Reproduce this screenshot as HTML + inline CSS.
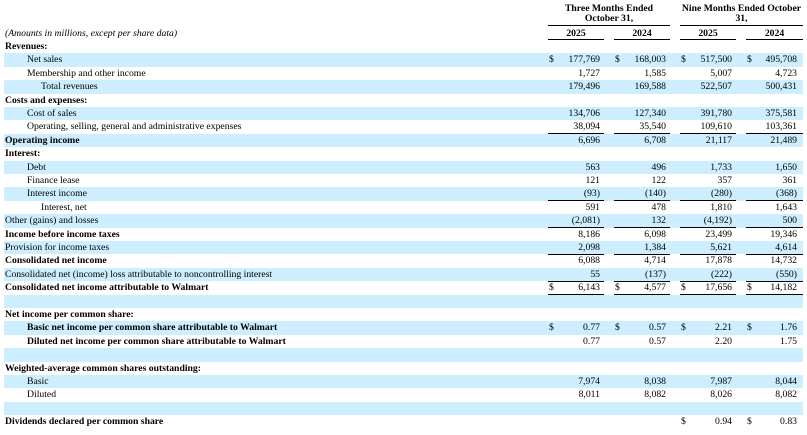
<!DOCTYPE html>
<html><head><meta charset="utf-8"><style>
body{margin:0;width:807px;height:435px;background:#fff;position:relative;overflow:hidden;font-family:"Liberation Serif",serif;font-size:9.7px;color:#000}
.r{position:absolute;left:4px;width:799px;height:13.4px}
.b{background:#cceeff}
.t{position:absolute;line-height:13.4px;white-space:nowrap}
.n{position:absolute;line-height:13.4px;text-align:right;width:60px}
.d{position:absolute;line-height:13.4px}
.ln{position:absolute;height:1px;background:#000}
.h{position:absolute;font-weight:bold;text-align:center;line-height:10px;white-space:nowrap}
</style></head><body>
<div class="h" style="left:548px;width:122px;top:4px">Three Months Ended<br>October 31,</div>
<div class="h" style="left:676px;width:131px;top:4px">Nine Months Ended October<br>31,</div>
<div class="ln" style="left:548px;width:122px;top:25px"></div>
<div class="ln" style="left:680px;width:123px;top:25px"></div>
<div class="h" style="left:548px;width:56px;top:29px">2025</div>
<div class="h" style="left:614px;width:56px;top:29px">2024</div>
<div class="h" style="left:680px;width:56px;top:29px">2025</div>
<div class="h" style="left:746px;width:57px;top:29px">2024</div>
<div class="ln" style="left:548px;width:56px;top:39px"></div>
<div class="ln" style="left:614px;width:56px;top:39px"></div>
<div class="ln" style="left:680px;width:56px;top:39px"></div>
<div class="ln" style="left:746px;width:57px;top:39px"></div>
<div class="t" style="left:5px;top:27px;font-style:italic">(Amounts in millions, except per share data)</div>
<div id="c"></div>
<script>
var rows=[
["Revenues:",5,1,null],
["Net sales",27,0,["177,769","168,003","517,500","495,708"],[1,1,1,1]],
["Membership and other income",27,0,["1,727","1,585","5,007","4,723"],0,"s"],
["Total revenues",41,0,["179,496","169,588","522,507","500,431"]],
["Costs and expenses:",5,1,null],
["Cost of sales",27,0,["134,706","127,340","391,780","375,581"]],
["Operating, selling, general and administrative expenses",27,0,["38,094","35,540","109,610","103,361"],0,"s"],
["Operating income",5,1,["6,696","6,708","21,117","21,489"]],
["Interest:",5,1,null],
["Debt",27,0,["563","496","1,733","1,650"]],
["Finance lease",27,0,["121","122","357","361"]],
["Interest income",27,0,["(93)","(140)","(280)","(368)"],0,"s"],
["Interest, net",41,0,["591","478","1,810","1,643"]],
["Other (gains) and losses",5,0,["(2,081)","132","(4,192)","500"],0,"s"],
["Income before income taxes",5,1,["8,186","6,098","23,499","19,346"]],
["Provision for income taxes",5,0,["2,098","1,384","5,621","4,614"],0,"s"],
["Consolidated net income",5,1,["6,088","4,714","17,878","14,732"]],
["Consolidated net (income) loss attributable to noncontrolling interest",5,0,["55","(137)","(222)","(550)"],0,"s"],
["Consolidated net income attributable to Walmart",5,1,["6,143","4,577","17,656","14,182"],[1,1,1,1],"d"],
["",5,0,null],
["Net income per common share:",5,1,null],
["Basic net income per common share attributable to Walmart",27,1,["0.77","0.57","2.21","1.76"],[1,1,1,1]],
["Diluted net income per common share attributable to Walmart",27,1,["0.77","0.57","2.20","1.75"]],
["",5,0,null],
["Weighted-average common shares outstanding:",5,1,null],
["Basic",27,0,["7,974","8,038","7,987","8,044"]],
["Diluted",27,0,["8,011","8,082","8,026","8,082"]],
["",5,0,null],
["Dividends declared per common share",5,1,["","","0.94","0.83"],[0,0,1,1]]
];
var L=[548,614,680,746],W=[56,56,56,57],R=[600,666,732,797];
var h="";
rows.forEach(function(r,i){
 var top=40+i*13.4;
 h+='<div class="r'+(i%2?' b':'')+'" style="top:'+top+'px"></div>';
 if(r[0])h+='<div class="t" style="left:'+r[1]+'px;top:'+top+'px;'+(r[2]?'font-weight:bold':'')+'">'+r[0]+'</div>';
 if(r[3])for(var k=0;k<4;k++){
  h+='<div class="n" style="left:'+(R[k]-60)+'px;top:'+top+'px">'+r[3][k]+'</div>';
  if(r[4]&&r[4][k])h+='<div class="d" style="left:'+(L[k]+1)+'px;top:'+top+'px">$</div>';
  if(r[5]){var y=top+13;h+='<div class="ln" style="left:'+L[k]+'px;width:'+W[k]+'px;top:'+y+'px"></div>';
   if(r[5]=="d")h+='<div class="ln" style="left:'+L[k]+'px;width:'+W[k]+'px;top:'+(y+2)+'px"></div>';}
 }
});
for(var k=0;k<4;k++){h+='<div class="ln" style="left:'+L[k]+'px;width:'+W[k]+'px;top:'+(40+18*13.4-0.5)+'px"></div>';}
document.getElementById("c").innerHTML=h;
</script>
</body></html>
